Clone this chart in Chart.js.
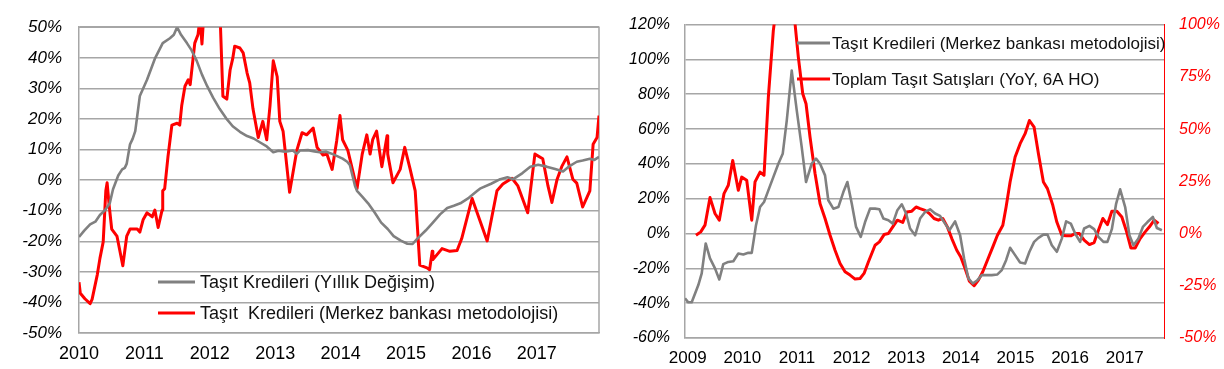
<!DOCTYPE html>
<html><head><meta charset="utf-8">
<script src="https://cdn.jsdelivr.net/npm/chart.js@4.4.0/dist/chart.umd.min.js"></script>
<style>
html,body{margin:0;padding:0;background:#fff;overflow:hidden;}
#l{position:absolute;left:0;top:0;width:610px;height:369px;}
#r{position:absolute;left:610px;top:0;width:614px;height:369px;}
</style></head><body>
<div id="l"><canvas id="cl"></canvas></div>
<div id="r"><canvas id="cr"></canvas></div>
<script>
// ---------- LEFT CHART DATA ----------
const leftYearTicks = [2010, 2011, 2012, 2013, 2014, 2015, 2016, 2017];
const leftGrayLabel = 'Taşıt Kredileri (Yıllık Değişim)';
const leftRedLabel = 'Taşıt  Kredileri (Merkez bankası metodolojisi)';
const leftGrayT = [2010.00,2010.08,2010.17,2010.25,2010.32,2010.40,2010.47,2010.52,2010.60,2010.66,2010.70,2010.73,2010.78,2010.82,2010.86,2010.93,2011.04,2011.16,2011.28,2011.39,2011.45,2011.50,2011.56,2011.65,2011.72,2011.80,2011.88,2011.96,2012.05,2012.15,2012.25,2012.35,2012.46,2012.57,2012.67,2012.77,2012.87,2012.97,2013.05,2013.15,2013.27,2013.33,2013.38,2013.50,2013.60,2013.68,2013.78,2013.88,2014.03,2014.10,2014.14,2014.22,2014.25,2014.33,2014.42,2014.52,2014.62,2014.72,2014.81,2014.92,2015.02,2015.10,2015.17,2015.30,2015.41,2015.52,2015.63,2015.73,2015.83,2015.96,2016.09,2016.13,2016.30,2016.44,2016.55,2016.64,2016.78,2016.90,2017.02,2017.15,2017.28,2017.40,2017.50,2017.61,2017.70,2017.81,2017.88,2017.95];
const leftGrayV = [-18.6,-16.5,-14.5,-13.6,-11.4,-9.8,-7.6,-3.0,1.5,3.5,4.0,5.4,11.7,13.5,16,27.5,32.8,39.7,44.8,46.4,47.5,50,47.5,44.8,42.5,39,34.5,30.7,27,23.3,20.2,17.6,15.8,14.4,13.6,12.3,11,9.1,9.6,9.3,9.7,8.6,9.7,9.8,9.4,9.1,9.3,8.5,7,6,5,-1.9,-3.5,-5.4,-7.6,-10.6,-13.9,-16,-18.3,-19.8,-20.8,-20.9,-19.2,-16.5,-13.9,-11.2,-9.1,-8.4,-7.6,-5.8,-3.5,-2.8,-1.2,0.3,0.9,0.3,2.3,4.4,5.0,4.4,3.6,2.8,4.6,6,6.4,7,6.6,7.6];
const leftRedT = [2010.00,2010.02,2010.09,2010.17,2010.20,2010.28,2010.32,2010.37,2010.41,2010.43,2010.46,2010.50,2010.58,2010.67,2010.73,2010.78,2010.89,2010.93,2010.98,2011.04,2011.12,2011.16,2011.21,2011.27,2011.28,2011.31,2011.36,2011.42,2011.50,2011.54,2011.57,2011.62,2011.67,2011.70,2011.74,2011.77,2011.82,2011.85,2011.88,2011.91,2011.97,2012.06,2012.16,2012.20,2012.26,2012.31,2012.35,2012.38,2012.46,2012.51,2012.57,2012.61,2012.66,2012.74,2012.81,2012.87,2012.92,2012.97,2013.03,2013.07,2013.12,2013.22,2013.33,2013.41,2013.48,2013.58,2013.64,2013.73,2013.79,2013.87,2013.94,2013.99,2014.03,2014.11,2014.25,2014.33,2014.40,2014.45,2014.49,2014.55,2014.63,2014.71,2014.72,2014.80,2014.91,2014.98,2015.06,2015.14,2015.21,2015.32,2015.36,2015.40,2015.41,2015.55,2015.67,2015.78,2015.85,2016.01,2016.24,2016.39,2016.48,2016.62,2016.71,2016.86,2016.97,2017.09,2017.17,2017.23,2017.31,2017.38,2017.46,2017.55,2017.61,2017.70,2017.81,2017.86,2017.92,2017.95];
const leftRedV = [-33.4,-37,-38.8,-40.4,-39,-30.9,-25.6,-20.2,-3.5,-0.9,-8,-16,-18.3,-28,-18.3,-16,-16,-17,-13,-10.7,-12,-9.8,-15.5,-9.8,-3.5,-2.8,7.6,18,18.6,18,24.3,30.7,32.8,31.2,39,44.8,47.6,53,44.5,55,62,58,52,27.4,26.5,36,39.7,43.8,43.2,41.6,35,31.8,23.3,13.9,19.2,13.2,24.3,39,33.8,19.2,16,-4,9.7,15.5,14.8,17,10.7,8.2,8.5,3.5,12.9,21.1,13.2,9.7,-2.8,8.5,14.8,8.5,13.2,16,4.4,14.5,8.5,-0.9,3.5,10.7,3.8,-3.5,-27.8,-28.7,-29.3,-23.3,-26,-22.4,-23.3,-23,-19.2,-6,-19.9,-3.5,-1.3,0.6,-1.9,-10.7,8.5,7,-1.9,-7.3,0.3,4.4,7.6,0.3,-1,-8.8,-3.5,11.7,13.9,21.1];
const leftYTicks = [-50,-40,-30,-20,-10,0,10,20,30,40,50];

// ---------- RIGHT CHART DATA ----------
const rightYearTicks = [2009, 2010, 2011, 2012, 2013, 2014, 2015, 2016, 2017];
const rightGrayLabel = 'Taşıt Kredileri (Merkez bankası metodolojisi)';
const rightRedLabel = 'Toplam Taşıt Satışları (YoY, 6A HO)';
const rightGrayT = [2008.950,2009.010,2009.073,2009.194,2009.256,2009.329,2009.408,2009.499,2009.578,2009.651,2009.743,2009.835,2009.926,2010.018,2010.109,2010.172,2010.250,2010.324,2010.397,2010.476,2010.567,2010.659,2010.739,2010.813,2010.904,2010.996,2011.087,2011.166,2011.270,2011.349,2011.423,2011.514,2011.574,2011.666,2011.758,2011.849,2011.923,2012.003,2012.082,2012.168,2012.247,2012.338,2012.430,2012.509,2012.582,2012.674,2012.754,2012.838,2012.919,2012.998,2013.071,2013.163,2013.254,2013.346,2013.437,2013.529,2013.620,2013.712,2013.791,2013.895,2013.987,2014.060,2014.139,2014.219,2014.303,2014.384,2014.476,2014.567,2014.670,2014.750,2014.829,2014.902,2014.994,2015.085,2015.177,2015.256,2015.342,2015.421,2015.512,2015.586,2015.666,2015.758,2015.849,2015.928,2016.014,2016.093,2016.184,2016.258,2016.355,2016.441,2016.520,2016.611,2016.684,2016.765,2016.844,2016.917,2017.009,2017.087,2017.161,2017.252,2017.333,2017.417,2017.516,2017.590,2017.681];
const rightGrayV = [-37.2,-39.5,-39.5,-29.6,-22.9,-5.7,-14.3,-20,-26.4,-17.6,-16.3,-15.9,-11.5,-12,-11.1,-11.1,4.8,15.2,18.1,24.8,32.4,40.1,45.8,64.9,93.6,70.7,49.6,29.6,40.1,43,40.1,33.4,19.1,14.3,15.2,23.8,29.6,17.2,3.8,-1.9,6.6,14.3,14.3,13.9,8.6,7.6,5.7,13.4,16.8,11.5,2.9,-1,8.6,12.4,13.9,11.5,10.1,5.7,1.9,7,-1,-14.3,-25.8,-28.7,-26.8,-23.9,-23.9,-23.9,-23.5,-21,-15.3,-8.2,-12.4,-16.6,-17.2,-10.5,-4.8,-2.5,-0.6,-0.6,-6.7,-10.5,-2.9,7,5.7,0,-4.8,2.9,4.4,2.5,-1.9,-4.8,-4.8,2.5,17.2,25.4,15.2,-1,-6.7,-2.9,3.8,6.6,9.5,3.2,1.9];
const rightRedT = [2009.151,2009.238,2009.316,2009.408,2009.499,2009.578,2009.664,2009.743,2009.824,2009.926,2009.988,2010.080,2010.172,2010.232,2010.324,2010.397,2010.476,2010.567,2010.653,2010.781,2010.910,2010.965,2011.025,2011.106,2011.166,2011.239,2011.331,2011.423,2011.514,2011.606,2011.697,2011.789,2011.880,2011.972,2012.064,2012.155,2012.228,2012.307,2012.430,2012.509,2012.595,2012.673,2012.754,2012.838,2012.937,2013.010,2013.102,2013.181,2013.254,2013.346,2013.424,2013.510,2013.589,2013.670,2013.754,2013.835,2013.926,2013.999,2014.078,2014.157,2014.243,2014.322,2014.402,2014.487,2014.586,2014.670,2014.769,2014.829,2014.902,2014.994,2015.086,2015.177,2015.256,2015.342,2015.421,2015.512,2015.586,2015.684,2015.758,2015.849,2015.928,2016.014,2016.093,2016.171,2016.258,2016.355,2016.441,2016.520,2016.600,2016.685,2016.765,2016.857,2016.948,2017.027,2017.113,2017.192,2017.283,2017.375,2017.454,2017.540,2017.619];
const rightRedV = [-0.8,0.8,4,17.2,9.6,6.4,19.1,23.1,35,20.7,27,25.5,6.4,24.7,29.4,27.9,65.3,97.1,115,125,110,100.3,84.4,66.9,62.1,46.2,28.7,14.3,7.2,-0.8,-8,-14.3,-18.3,-19.9,-21.8,-21.5,-19.1,-13.6,-5.6,-4,-0.5,0,3.2,6.4,5.3,10.3,10.7,12.7,11.9,11.1,9.6,7.2,6.4,7.2,3.2,-2.4,-8,-11.2,-16.7,-22.8,-25,-22.3,-18.3,-12.8,-6.4,-0.8,4,12.7,24.7,36.6,43,47.8,54.1,50.9,38.2,24.7,21.5,13.5,5.5,-0.8,-1.1,-1.1,0,0,-3.2,-5.3,-4.3,1.6,7.2,4.3,10.7,10.7,7.9,1.6,-6.9,-6.9,-2.4,0.8,3.2,6.4,4.8];
const rightYTicks = [-60,-40,-20,0,20,40,60,80,100,120];
const rightY2Ticks = [-50,-25,0,25,50,75,100];

// ---------- COMMON ----------
const FONT = '"Liberation Sans", Arial, sans-serif';
const GRAY = '#808080';
const RED = '#ff0000';
const GRID = '#a6a6a6';
const pts = (T, V) => T.map((t, i) => ({x: t, y: V[i]}));
const setTicks = arr => s => { s.ticks = arr.map(v => ({value: v})); };

function frame(color) {
  return {
    id: 'frame',
    beforeDatasetsDraw(chart) {
      const a = chart.chartArea, c = chart.ctx;
      c.save(); c.strokeStyle = color; c.lineWidth = 1.5;
      c.beginPath(); c.moveTo(a.left, a.top); c.lineTo(a.right, a.top); c.lineTo(a.right, a.bottom); c.stroke();
      c.restore();
    }
  };
}
function legendPlugin(items, size) {
  return {
    id: 'customLegend',
    afterDraw(chart) {
      const c = chart.ctx;
      c.save();
      items.forEach(it => {
        c.strokeStyle = it.color; c.lineWidth = 3;
        c.beginPath(); c.moveTo(it.x1, it.y); c.lineTo(it.x2, it.y); c.stroke();
        c.fillStyle = '#111'; c.font = size + 'px ' + FONT; c.textBaseline = 'middle'; c.textAlign = 'left';
        c.fillText(it.text, it.tx, it.y + 1);
      });
      c.restore();
    }
  };
}

// ---------- LEFT CHART ----------
new Chart(document.getElementById('cl'), {
  type: 'line',
  data: {
    datasets: [
      {label: leftGrayLabel, data: pts(leftGrayT, leftGrayV), borderColor: GRAY, borderWidth: 2.6, pointRadius: 0, tension: 0, clip: 0, borderJoinStyle: 'round'},
      {label: leftRedLabel, data: pts(leftRedT, leftRedV), borderColor: RED, borderWidth: 3, pointRadius: 0, tension: 0, clip: 0, borderJoinStyle: 'round'}
    ]
  },
  options: {
    responsive: true, maintainAspectRatio: false, animation: false, devicePixelRatio: 1,
    layout: {padding: {top: 15, right: 11, left: 0, bottom: 0}},
    plugins: {legend: {display: false}, tooltip: {enabled: false}},
    scales: {
      x: {
        type: 'linear', min: 2010, max: 2017.95,
        afterBuildTicks: setTicks(leftYearTicks),
        afterFit: s => { s.height = 36; },
        grid: {display: false, drawTicks: false},
        border: {color: GRID, width: 1.5},
        ticks: {font: {size: 18, family: FONT}, color: '#000', padding: 10, maxRotation: 0, autoSkip: false, callback: v => String(v)}
      },
      y: {
        min: -50, max: 50,
        afterBuildTicks: setTicks(leftYTicks),
        afterFit: s => { s.width = 79; },
        grid: {color: GRID, lineWidth: 1.5, drawTicks: false},
        border: {color: GRID, width: 1.5},
        ticks: {font: {size: 17, family: FONT, style: 'italic'}, color: '#000', padding: 17, callback: v => v + '%'}
      }
    }
  },
  plugins: [frame(GRID), legendPlugin([
    {color: GRAY, x1: 158, x2: 195, y: 282, tx: 200, text: leftGrayLabel},
    {color: RED, x1: 158, x2: 195, y: 313, tx: 200, text: leftRedLabel}
  ], 18)]
});

// ---------- RIGHT CHART ----------
new Chart(document.getElementById('cr'), {
  type: 'line',
  data: {
    datasets: [
      {label: rightGrayLabel, data: pts(rightGrayT, rightGrayV), borderColor: GRAY, borderWidth: 2.6, pointRadius: 0, tension: 0, clip: 0, yAxisID: 'y', borderJoinStyle: 'round'},
      {label: rightRedLabel, data: pts(rightRedT, rightRedV), borderColor: RED, borderWidth: 3, pointRadius: 0, tension: 0, clip: 0, yAxisID: 'y2', borderJoinStyle: 'round'}
    ]
  },
  options: {
    responsive: true, maintainAspectRatio: false, animation: false, devicePixelRatio: 1,
    layout: {padding: {top: 24, right: 0, left: 0, bottom: 0}},
    plugins: {legend: {display: false}, tooltip: {enabled: false}},
    scales: {
      x: {
        type: 'linear', min: 2008.95, max: 2017.72,
        afterBuildTicks: setTicks(rightYearTicks),
        afterFit: s => { s.height = 31; },
        grid: {display: false, drawTicks: false},
        border: {color: GRID, width: 1.5},
        ticks: {font: {size: 17, family: FONT}, color: '#000', padding: 10, maxRotation: 0, autoSkip: false, callback: v => String(v)}
      },
      y: {
        position: 'left', min: -60, max: 120,
        afterBuildTicks: setTicks(rightYTicks),
        afterFit: s => { s.width = 75; },
        grid: {color: GRID, lineWidth: 1.5, drawTicks: false},
        border: {color: GRID, width: 1.5},
        ticks: {font: {size: 16, family: FONT, style: 'italic'}, color: '#000', padding: 15, callback: v => v + '%'}
      },
      y2: {
        position: 'right', min: -50, max: 100,
        afterBuildTicks: setTicks(rightY2Ticks),
        afterFit: s => { s.width = 60; },
        grid: {display: false, drawTicks: false},
        border: {color: RED, width: 1},
        ticks: {font: {size: 16, family: FONT, style: 'italic'}, color: RED, padding: 15, callback: v => v + '%'}
      }
    }
  },
  plugins: [legendPlugin([
    {color: GRAY, x1: 187, x2: 220, y: 43, tx: 222, text: rightGrayLabel},
    {color: RED, x1: 187, x2: 220, y: 79, tx: 222, text: rightRedLabel}
  ], 17)]
});
</script>
</body></html>
